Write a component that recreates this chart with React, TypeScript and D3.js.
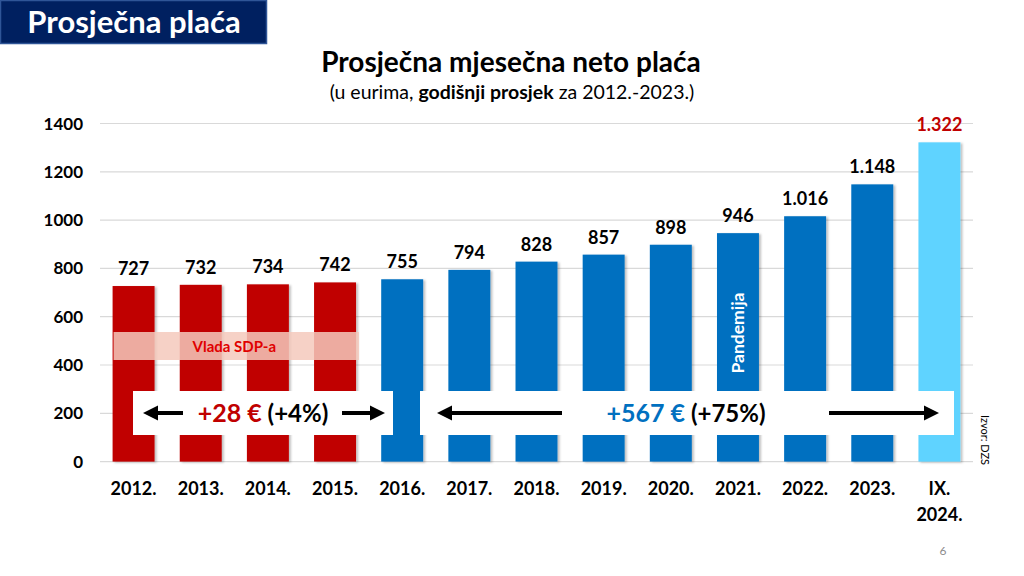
import React from "react";
import * as d3 from "d3";

const categories = ["2012.", "2013.", "2014.", "2015.", "2016.", "2017.", "2018.", "2019.", "2020.", "2021.", "2022.", "2023.", "IX.|2024."];
const values = [727, 732, 734, 742, 755, 794, 828, 857, 898, 946, 1016, 1148, 1322];
const valueLabels = ["727", "732", "734", "742", "755", "794", "828", "857", "898", "946", "1.016", "1.148", "1.322"];
const groups = ["sdp", "sdp", "sdp", "sdp", "other", "other", "other", "other", "other", "other", "other", "other", "latest"];
const yTicks = [0, 200, 400, 600, 800, 1000, 1200, 1400];

const COLORS: Record<string, string> = { sdp: "#C00000", other: "#0070C0", latest: "#5FD3FF" };
const FONT = "Lato, 'Open Sans', sans-serif";

export default function App() {
  const W = 1024, H = 576;
  const left = 100, right = 973, bottom = 461.6, top = 123.5;
  const x = d3.scaleBand<string>().domain(categories).range([left, right]).paddingInner(0.375).paddingOuter(0.1875);
  const y = d3.scaleLinear().domain([0, 1400]).range([bottom, top]);
  const bw = x.bandwidth();
  const cx = (c: string) => (x(c) as number) + bw / 2;

  const boxY = 391, boxH = 44, arrowY = 413;
  const arrow = (x1: number, x2: number, key: string) => {
    const dir = x2 > x1 ? 1 : -1;
    const head = 15;
    return (
      <g key={key}>
        <line x1={x1} y1={arrowY} x2={x2 - dir * head} y2={arrowY} stroke="#000" strokeWidth={4} />
        <path d={`M${x2},${arrowY} L${x2 - dir * head},${arrowY - 7.5} L${x2 - dir * head},${arrowY + 7.5} Z`} fill="#000" />
      </g>
    );
  };

  return (
    <svg width={W} height={H} style={{ position: "absolute", left: 0, top: 0 }} fontFamily={FONT}>
      <defs>
        <filter id="sh" x="-10%" y="-10%" width="130%" height="120%">
          <feDropShadow dx="2" dy="1" stdDeviation="1" floodColor="#000" floodOpacity="0.25" />
        </filter>
      </defs>
      <rect x={0} y={0} width={W} height={H} fill="#fff" />
      {/* header */}
      <rect x={0.5} y={0.5} width={266} height={43} fill="#002060" stroke="#2F5597" strokeWidth={1.5} />
      <text x={134} y={33} textAnchor="middle" fill="#fff" fontWeight={700} fontSize={31}>Prosječna plaća</text>
      {/* titles */}
      <text x={511} y={72} textAnchor="middle" fontWeight={700} fontSize={28} fill="#000">Prosječna mjesečna neto plaća</text>
      <text x={512} y={99} textAnchor="middle" fontSize={19.5} fill="#000">
        (u eurima, <tspan fontWeight={700}>godišnji prosjek</tspan> za 2012.-2023.)
      </text>
      {/* grid */}
      {yTicks.map((t) => (
        <g key={t}>
          <line x1={left} x2={right} y1={y(t)} y2={y(t)} stroke="#D9D9D9" strokeWidth={1.2} />
          <text x={83} y={y(t) + 6} textAnchor="end" fontWeight={700} fontSize={17} fill="#000">{t}</text>
        </g>
      ))}
      {/* bars */}
      {categories.map((c, i) => (
        <rect key={c} x={x(c)} y={y(values[i])} width={bw} height={bottom - y(values[i])} fill={COLORS[groups[i]]} filter="url(#sh)" />
      ))}
      {/* value labels */}
      {categories.map((c, i) => (
        <text key={c} x={cx(c)} y={y(values[i]) - 11} textAnchor="middle" fontWeight={700} fontSize={18}
          fill={groups[i] === "latest" ? "#C00000" : "#000"}>{valueLabels[i]}</text>
      ))}
      {/* x labels */}
      {categories.map((c) => {
        const parts = c.split("|");
        return (
          <text key={c} x={cx(c)} y={495} textAnchor="middle" fontWeight={700} fontSize={18} fill="#000">
            {parts.map((p, j) => (
              <tspan key={j} x={cx(c)} dy={j === 0 ? 0 : 26}>{p}</tspan>
            ))}
          </text>
        );
      })}
      {/* SDP band */}
      <rect x={(x(categories[0]) as number) + 1} y={332} width={(x(categories[3]) as number) + bw - (x(categories[0]) as number) + 2} height={28}
        fill="#F4C9BC" opacity={0.85} />
      <text x={((x(categories[0]) as number) + (x(categories[3]) as number) + bw) / 2} y={352} textAnchor="middle" fill="#E00000" fontWeight={700} fontSize={15}>Vlada SDP-a</text>
      {/* Pandemija */}
      <text transform={`translate(${cx(categories[9]) + 6},333) rotate(-90)`} textAnchor="middle" fill="#fff" fontWeight={700} fontSize={17.5}>Pandemija</text>
      {/* change boxes */}
      <rect x={133} y={boxY} width={260} height={boxH} fill="#fff" />
      <rect x={420} y={boxY} width={534} height={boxH} fill="#fff" />
      {arrow(183, 143, "a1")}
      {arrow(342, 385, "a2")}
      <text x={263} y={422} textAnchor="middle" fontWeight={700} fontSize={25}>
        <tspan fill="#C00000">+28 €</tspan><tspan fill="#000" fontSize={24}> (+4%)</tspan>
      </text>
      {arrow(562, 437, "a3")}
      {arrow(829, 939, "a4")}
      <text x={686} y={422} textAnchor="middle" fontWeight={700} fontSize={25}>
        <tspan fill="#0070C0">+567 €</tspan><tspan fill="#000" fontSize={24}> (+75%)</tspan>
      </text>
      {/* source */}
      <text transform="translate(981,415) rotate(90)" fontSize={11} fill="#000">Izvor: DZS</text>
      {/* page number */}
      <text x={943} y={555} textAnchor="middle" fontSize={12} fill="#8C8C8C">6</text>
    </svg>
  );
}
